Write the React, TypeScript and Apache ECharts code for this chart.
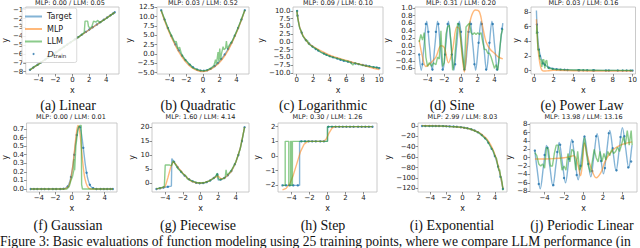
import React, { useEffect, useRef } from 'react';
import * as echarts from 'echarts';

// ---------- (a) Linear ----------
const aTarget = [[-5, -7.8], [5, -1.3]];
const aMLP = [[-5, -7.82], [-2, -5.85], [0, -4.57], [2, -3.27], [5, -1.3]];
const aLLM = [[-5, -7.8], [-4.5, -7.45], [-4, -7.2], [-3.5, -6.8], [-3, -6.5], [-2.5, -6.2], [-2.2, -6.3], [-2, -5.95], [-1.5, -5.55], [-1, -5.2], [-0.5, -4.85], [0, -4.55], [0.5, -4.25], [1, -3.9], [1.4, -3.6], [1.5, -2.3], [1.8, -2.3], [1.9, -2.9], [2.1, -3.1], [2.3, -2.9], [2.5, -2.3], [2.8, -2.4], [3.0, -2.2], [3.2, -2.5], [3.5, -2.3], [4, -2.0], [4.5, -1.65], [5, -1.3]];
const aPts = [[-5, -7.8], [-4.6, -7.54], [-4.1, -7.22], [-3.7, -6.96], [-3.2, -6.63], [-2.8, -6.37], [-2.3, -6.05], [-1.9, -5.79], [-1.5, -5.53], [-1.0, -5.2], [-0.6, -4.94], [-0.2, -4.68], [0.3, -4.36], [0.7, -4.1], [1.1, -3.84], [1.6, -3.51], [2.0, -3.25], [2.4, -2.99], [2.9, -2.67], [3.3, -2.41], [3.7, -2.15], [4.1, -1.89], [4.5, -1.63], [4.8, -1.43], [5.0, -1.3]];

// ---------- (b) Quadratic ----------
const bTarget = [[-5, 11.75], [-4.5, 8.66], [-4, 5.9], [-3.5, 3.46], [-3, 1.35], [-2.5, -0.44], [-2, -1.9], [-1.5, -3.04], [-1, -3.85], [-0.5, -4.34], [0, -4.5], [0.5, -4.34], [1, -3.85], [1.5, -3.04], [2, -1.9], [2.5, -0.44], [3, 1.35], [3.5, 3.46], [4, 5.9], [4.5, 8.66], [5, 11.75]];
const bMLP = [[-5, 11.6], [-4.5, 8.4], [-4, 5.6], [-3.5, 3.2], [-3, 1.0], [-2.5, -0.8], [-2, -2.3], [-1.5, -3.4], [-1, -4.1], [-0.5, -4.55], [0, -4.7], [0.5, -4.5], [1, -4.0], [1.5, -3.2], [2, -2.2], [2.5, -0.8], [3, 1.0], [3.5, 3.2], [4, 5.7], [4.5, 8.5], [5, 11.7]];
const bLLM = [[-5, 11.7], [-4.5, 8.8], [-4, 6.0], [-3.6, 4.2], [-3.4, 3.2], [-3.2, 3.4], [-3, 1.4], [-2.8, 1.8], [-2.6, 0.2], [-2.4, -0.6], [-2.1, -1.6], [-1.9, -2.0], [-1.7, -2.6], [-1.5, -2.9], [-1.3, -3.6], [-1, -3.9], [-0.5, -4.3], [0, -4.5], [0.5, -4.3], [1, -3.7], [1.3, -3.1], [1.5, -1.5], [1.6, -2.8], [1.8, 0.5], [1.9, -2.0], [2.0, 1.5], [2.1, -1.5], [2.2, 0.0], [2.4, 2.0], [2.5, 1.2], [2.7, 1.5], [2.8, 3.5], [2.9, 1.5], [3.0, 1.8], [3.2, 2.6], [3.5, 3.5], [4, 6.0], [4.5, 8.8], [5, 11.8]];
const bPts = [[-5, 11.75], [-4.6, 9.25], [-4.2, 6.97], [-3.8, 4.89], [-3.3, 2.58], [-2.9, 0.97], [-2.5, -0.44], [-2.1, -1.63], [-1.6, -2.84], [-1.2, -3.56], [-0.7, -4.18], [-0.3, -4.44], [0.1, -4.49], [0.5, -4.34], [0.9, -3.97], [1.4, -3.23], [1.8, -2.39], [2.2, -1.35], [2.6, -0.11], [3.0, 1.35], [3.4, 3.01], [3.8, 4.89], [4.2, 6.97], [4.6, 9.25], [5.0, 11.75]];

// ---------- (c) Logarithmic ----------
const cTarget = [[0.02, 10.3], [0.1, 8.5], [0.2, 6.5], [0.35, 4.8], [0.5, 3.6], [0.75, 2.0], [1, 0.9], [1.5, -0.5], [2, -1.7], [2.5, -2.6], [3, -3.4], [4, -4.6], [5, -5.5], [6, -6.3], [7, -6.9], [8, -7.5], [9, -8.0], [10, -8.5]];
const cMLP = [[0.02, 9.8], [0.2, 6.8], [0.5, 3.5], [1, 1.0], [1.5, -0.6], [2, -1.5], [3, -3.0], [4, -4.3], [5, -5.2], [6, -6.0], [7, -6.8], [8, -7.5], [9, -8.3], [10, -9.0]];
const cLLM = [[0.02, 10.3], [0.1, 8.0], [0.2, 6.8], [0.35, 4.5], [0.5, 3.8], [0.75, 1.8], [1, 1.1], [1.2, 0.2], [1.3, 0.6], [1.4, -0.6], [2, -1.7], [2.5, -2.5], [3, -3.5], [4, -4.7], [5, -5.4], [6, -6.2], [6.5, -6.6], [6.8, -7.5], [7, -6.8], [8, -7.6], [9, -8.0], [10, -8.5]];
const cPts = [[0.05, 10.0], [0.1, 8.5], [0.6, 3.0], [1.1, 0.6], [1.5, -0.5], [1.9, -1.5], [2.3, -2.3], [2.6, -2.8], [3.3, -3.8], [3.6, -4.2], [4.0, -4.6], [4.4, -5.0], [4.9, -5.4], [5.3, -5.8], [5.7, -6.1], [6.2, -6.4], [6.6, -6.7], [7.1, -7.0], [7.5, -7.2], [8.0, -7.5], [8.4, -7.7], [8.8, -7.9], [9.3, -8.2], [9.7, -8.3], [10.0, -8.5]];

// ---------- (d) Sine ----------
const dTarget = [[-5.0, -0.25], [-4.75, -0.65], [-4.425, 0], [-4.1, 0.65], [-3.775, 0], [-3.45, -0.65], [-3.125, 0], [-2.8, 0.65], [-2.475, 0], [-2.15, -0.65], [-1.825, 0], [-1.5, 0.65], [-1.175, 0], [-0.85, -0.65], [-0.525, 0], [-0.2, 0.65], [0.125, 0], [0.45, -0.65], [0.775, 0], [1.1, 0.65], [1.425, 0], [1.75, -0.65], [2.075, 0], [2.4, 0.65], [2.725, 0], [3.05, -0.65], [3.375, 0], [3.7, 0.65], [4.025, 0], [4.35, -0.65], [4.675, 0], [5.0, 0.6]];
const dMLP = [[-5, 0.15], [-4.6, -0.3], [-4.2, -0.55], [-3.6, -0.45], [-3, -0.3], [-2.4, 0.0], [-2.0, -0.05], [-1.5, -0.45], [-1.0, -0.1], [-0.5, 0.5], [-0.2, 0.45], [0.1, -0.2], [0.4, -0.7], [0.8, 0.3], [1.2, 0.75], [1.7, 0.95], [2.2, 0.9], [2.6, 0.5], [3.0, 0.1], [3.5, -0.1], [4.0, -0.2], [4.5, -0.3], [5.0, -0.35]];
const dLLM = [[-5, 0.1], [-4.8, 0.3], [-4.6, 0.15], [-4.4, 0.35], [-4.2, -0.3], [-4.0, -0.55], [-3.8, -0.45], [-3.5, -0.55], [-3.3, -0.45], [-3.0, -0.5], [-2.8, -0.3], [-2.6, -0.35], [-2.4, 0.4], [-2.2, -0.55], [-2.0, -0.45], [-1.8, 0.3], [-1.6, 0.5], [-1.4, 0.55], [-1.2, 0.1], [-1.0, -0.65], [-0.8, -0.45], [-0.6, 0.1], [-0.4, 0.6], [-0.2, 0.55], [0, 0.1], [0.2, -0.3], [0.4, -0.65], [0.6, 0.5], [0.8, 0.55], [1.0, 0.6], [1.2, 0.35], [1.4, 0.3], [1.6, 0.35], [1.8, 0.3], [2.0, 0.35], [2.2, 0.3], [2.4, 0.35], [2.6, 0.1], [2.8, -0.1], [3.0, -0.1], [3.2, -0.2], [3.4, -0.2], [3.6, -0.3], [3.8, -0.45], [4.0, -0.6], [4.2, -0.5], [4.4, -0.65], [4.6, -0.2], [4.8, 0.3], [5.0, 0.45]];
const dPts = [[-5.0, -0.23], [-4.6, -0.49], [-4.2, 0.58], [-3.9, 0.37], [-3.4, -0.63], [-3.0, 0.37], [-2.7, 0.58], [-2.2, -0.63], [-1.9, -0.23], [-1.6, 0.58], [-1.1, -0.23], [-0.7, -0.49], [-0.3, 0.58], [0.0, 0.37], [0.4, -0.63], [0.9, 0.37], [1.2, 0.58], [1.6, -0.49], [2.1, 0.08], [2.5, 0.58], [3.0, -0.63], [3.4, 0.08], [3.8, 0.58], [4.3, -0.63], [4.9, 0.45]];

// ---------- (e) Power Law ----------
const eTarget = [[0.25, 8.2], [0.3, 6.4], [0.4, 4.2], [0.5, 3.0], [0.6, 2.3], [0.8, 1.4], [1.0, 0.95], [1.3, 0.6], [1.6, 0.4], [2, 0.27], [2.5, 0.17], [3, 0.12], [4, 0.07], [5, 0.05], [6, 0.03], [8, 0.02], [10, 0.01]];
const eMLP = [[0.25, 7.0], [0.3, 5.5], [0.4, 3.2], [0.5, 1.9], [0.6, 1.0], [0.7, 0.4], [0.8, 0.1], [1.0, -0.05], [1.5, 0.0], [2, 0.05], [4, 0.0], [6, -0.05], [10, -0.05]];
const eLLM = [[0.25, 5.0], [0.3, 6.2], [0.4, 2.8], [0.5, 2.9], [0.6, 1.6], [0.7, 1.5], [0.8, 0.5], [0.9, 1.5], [1.0, 1.5], [1.1, 0.3], [1.2, 1.3], [1.3, 1.4], [1.4, 0.4], [1.5, 0.3], [1.7, 0.3], [2.0, 0.2], [3, 0.15], [5, 0.1], [7, 0.05], [10, 0.05]];
const ePts = [[0.3, 6.3], [0.35, 5.2], [0.5, 2.9], [0.6, 2.0], [0.9, 1.0], [1.1, 0.8], [1.5, 0.4], [1.9, 0.25], [2.3, 0.2], [2.7, 0.15], [3.1, 0.12], [3.4, 0.1], [4.5, 0.06], [4.6, 0.06], [5.0, 0.05], [5.4, 0.05], [6.0, 0.04], [6.1, 0.04], [7.3, 0.03], [7.6, 0.03], [8.5, 0.02], [9.0, 0.02], [9.4, 0.02], [9.8, 0.01], [10, 0.01]];

// ---------- (f) Gaussian ----------
const fTarget = [[-5, 0], [-1.5, 0], [-1, 0.002], [-0.5, 0.03], [-0.2, 0.1], [0.1, 0.25], [0.3, 0.4], [0.5, 0.56], [0.7, 0.68], [0.9, 0.73], [1.1, 0.68], [1.3, 0.56], [1.5, 0.4], [1.7, 0.25], [2.0, 0.1], [2.3, 0.03], [2.8, 0.002], [3.2, 0], [5, 0]];
const fMLP = [[-5, 0], [-1, 0], [-0.5, 0.02], [-0.2, 0.08], [0.1, 0.25], [0.3, 0.42], [0.5, 0.6], [0.75, 0.74], [0.95, 0.68], [1.15, 0.5], [1.35, 0.3], [1.6, 0.12], [1.9, 0.03], [2.3, 0], [5, 0]];
const fLLM = [[-5, 0], [-0.6, 0], [-0.3, 0.03], [-0.1, 0.1], [0.1, 0.15], [0.25, 0.22], [0.3, 0.35], [0.35, 0.22], [0.5, 0.5], [0.65, 0.62], [0.8, 0.72], [1.0, 0.74], [1.15, 0.74], [1.2, 0.05], [1.3, 0], [5, 0]];
const fPts = [[-5, 0], [-4.6, 0], [-4.2, 0], [-3.7, 0], [-3.3, 0], [-2.8, 0], [-2.3, 0], [-1.9, 0], [-1.4, 0], [-1.0, 0.002], [-0.5, 0.03], [-0.1, 0.14], [0.3, 0.4], [0.6, 0.63], [1.0, 0.72], [1.4, 0.48], [1.8, 0.19], [2.2, 0.05], [2.6, 0.01], [3.0, 0], [3.5, 0], [3.9, 0], [4.3, 0], [4.7, 0], [5.0, 0]];

// ---------- (g) Piecewise ----------
const gTarget = [[-5, -2], [-4, -1.4], [-3.3, -1.0], [-3.25, 8.8], [-3, 7.65], [-2.75, 6.43], [-2.5, 5.31], [-2.25, 4.3], [-2, 3.4], [-1.75, 2.6], [-1.5, 1.91], [-1.25, 1.33], [-1, 0.85], [-0.75, 0.48], [-0.5, 0.21], [-0.25, 0.05], [0, 0], [0.25, 0.05], [0.5, 0.21], [0.75, 0.48], [1, 0.85], [1.25, 1.33], [1.5, 1.91], [1.75, 2.6], [1.95, 3.6], [2.0, 1.2], [2.25, 1.3], [2.5, 1.6], [2.75, 2.0], [3, 2.6], [3.25, 3.4], [3.5, 4.4], [3.75, 5.8], [4, 7.5], [4.25, 9.7], [4.5, 12.4], [4.75, 15.8], [5, 20]];
const gMLP = [[-5, -2], [-4.5, -1.7], [-4, -1.2], [-3.7, 2], [-3.4, 5.5], [-3.1, 7.8], [-2.8, 6.8], [-2.5, 5.5], [-2, 3.6], [-1.5, 1.9], [-1, 0.7], [-0.5, 0.2], [0, 0.1], [0.5, 0.3], [1, 0.9], [1.5, 1.9], [2, 2.6], [2.3, 1.6], [2.7, 1.8], [3, 2.6], [3.5, 4.2], [4, 7.4], [4.5, 12.4], [5, 20]];
const gLLM = [[-5, -2], [-4.5, -1.6], [-4.1, -1.2], [-4.0, 6.5], [-3.5, 6.5], [-3.3, 6.3], [-3.1, 8.0], [-2.8, 6.5], [-2.5, 5.0], [-2.2, 4.2], [-2.0, 3.4], [-1.6, 2.5], [-1.5, 1.6], [-1.0, 0.9], [-0.5, 0.3], [0, 0.1], [0.5, 0.3], [1, 0.9], [1.5, 1.8], [1.7, 2.3], [1.9, 3.6], [2.0, 1.8], [2.2, 1.2], [2.5, 1.6], [2.8, 2.0], [2.9, 4.8], [3.0, 3.0], [3.2, 3.5], [3.5, 4.6], [4, 7.6], [4.5, 12.2], [5, 20]];
const gPts = [[-5, -2], [-4.6, -1.8], [-4.2, -1.5], [-3.7, -1.2], [-3.0, 7.65], [-2.6, 5.75], [-2.2, 4.1], [-1.8, 2.75], [-1.3, 1.44], [-0.9, 0.69], [-0.5, 0.21], [-0.1, 0.01], [0.3, 0.08], [0.7, 0.42], [1.1, 1.03], [1.5, 1.91], [1.9, 3.07], [2.3, 1.35], [2.7, 1.9], [3.1, 2.9], [3.5, 4.4], [3.9, 6.8], [4.3, 10.1], [4.7, 15.1], [5.0, 20]];

// ---------- (h) Step ----------
const hTarget = [[-5, -2], [-3.1, -2], [-3.1, 1], [0, 1], [0, 2], [5, 2]];
const hMLP = [[-5, -2.3], [-4.6, -2.2], [-4.2, -1.9], [-3.8, -1.3], [-3.4, -0.5], [-3.0, 0.3], [-2.6, 0.8], [-2.2, 1.0], [-1, 1.0], [-0.4, 1.0], [-0.1, 1.2], [0.2, 1.6], [0.5, 1.9], [0.8, 2.0], [5, 2.0]];
const hLLM = [[-5, -2], [-4.7, -2], [-4.7, 1], [-4.3, 1], [-4.3, -2], [-4.1, -2], [-4.1, 1], [-4.0, 1], [-4.0, -2], [-3.9, -2], [-3.9, 1], [0, 1], [0, 2], [5, 2]];
const hPts = [[-5, -2], [-4.6, -2], [-4.2, -2], [-3.8, -2], [-3.3, -2], [-2.9, 1], [-2.5, 1], [-2.1, 1], [-1.7, 1], [-1.3, 1], [-0.8, 1], [-0.4, 1], [0.1, 2], [0.5, 2], [0.9, 2], [1.3, 2], [1.7, 2], [2.1, 2], [2.5, 2], [2.9, 2], [3.4, 2], [3.8, 2], [4.2, 2], [4.6, 2], [5.0, 2]];

// ---------- (i) Exponential ----------
const iTarget = [[-5, -0.1], [-4, -0.15], [-3, -0.3], [-2, -0.7], [-1, -1.4], [0, -3], [0.5, -4.4], [1, -6.3], [1.5, -9], [2, -13], [2.5, -19], [3, -27.5], [3.5, -40], [4, -58], [4.5, -84], [5, -121]];
const iMLP = [[-5, 0.5], [-4, 0.2], [-3, -0.2], [-2, -0.8], [-1, -1.6], [0, -3.2], [1, -6.5], [2, -12.5], [2.5, -18], [3, -25], [3.5, -37], [4, -55], [4.5, -82], [5, -120]];
const iLLM = [[-5, 0], [-4, -0.2], [-3, -0.5], [-2.5, -0.3], [-2, -1], [-1, -1.8], [0, -3], [1, -6], [1.5, -9.5], [2, -13], [2.5, -20], [3, -27], [3.5, -41], [3.8, -48], [4, -58], [4.2, -62], [4.3, -72], [4.5, -86], [4.6, -84], [4.7, -98], [4.8, -100], [4.9, -108], [5, -124]];
const iPts = [[-5, -0.1], [-4.6, -0.1], [-4.1, -0.15], [-3.7, -0.2], [-3.3, -0.25], [-2.9, -0.32], [-2.4, -0.5], [-2.0, -0.7], [-1.6, -0.95], [-1.1, -1.3], [-0.7, -1.8], [-0.2, -2.6], [0.2, -3.5], [0.6, -4.7], [1.1, -6.8], [1.5, -9], [1.9, -12.3], [2.4, -17.7], [2.8, -23.9], [3.2, -32.5], [3.6, -44], [4.0, -58], [4.4, -78], [4.7, -98], [5.0, -121]];

// ---------- (j) Periodic Linear ----------
const jTarget = [[-5.0, 1.7], [-4.775, -2.63], [-4.45, -7.45], [-4.125, -2.27], [-3.8, 2.91], [-3.475, -1.91], [-3.15, -6.73], [-2.825, -1.55], [-2.5, 3.63], [-2.175, -1.2], [-1.85, -6.02], [-1.525, -0.84], [-1.2, 4.34], [-0.875, -0.48], [-0.55, -5.3], [-0.225, -0.12], [0.1, 5.06], [0.425, 0.23], [0.75, -4.59], [1.075, 0.59], [1.4, 5.77], [1.725, 0.95], [2.05, -3.87], [2.375, 1.31], [2.7, 6.49], [3.025, 1.66], [3.35, -3.16], [3.675, 2.02], [4.0, 7.2], [4.325, 2.38], [4.65, -2.44], [4.975, 2.74], [5.0, 3.0]];
const jMLP = [[-5, -0.3], [-4, -0.3], [-3, -0.2], [-2, 0], [-1.5, 0.2], [-1, 0.5], [-0.6, -1.5], [-0.3, -4.3], [-0.1, -1], [0.1, 3.5], [0.4, 0.5], [0.8, -2.5], [1.3, -4.8], [1.8, -3.5], [2.2, -1], [2.7, 1], [3.2, 2.2], [3.8, 3.0], [4.4, 3.5], [5, 3.8]];
const jLLM = [[-5, 1.2], [-4.8, 0.5], [-4.6, -1.5], [-4.4, -2], [-4.2, -1.5], [-4, -2.5], [-3.8, 2.5], [-3.6, 2], [-3.4, -2], [-3.2, -2], [-3, 1], [-2.8, 3], [-2.6, 3], [-2.4, 0.5], [-2.2, -3], [-2, -2], [-1.8, -3], [-1.6, 1], [-1.4, -1], [-1.2, 2], [-1, 1.5], [-0.8, -3], [-0.6, 1.5], [-0.4, -3], [-0.2, -2], [0, 3], [0.1, 4.8], [0.3, 1], [0.5, -2], [0.7, -3.5], [0.9, -1], [1.1, 2], [1.3, 0], [1.5, -1], [1.7, 1.5], [1.9, -1], [2.1, 1], [2.3, -0.5], [2.5, 1.5], [2.7, 0.5], [2.9, 2], [3.1, 1], [3.3, 1.5], [3.5, 2.5], [3.7, 1.5], [3.9, 3], [4.1, 5], [4.3, 3], [4.5, 6.5], [4.7, 3], [4.9, 6.5], [5, 3]];
const jPts = [[-5.0, 1.7], [-4.6, -6.27], [-4.0, 0.65], [-3.7, 2.4], [-3.1, -6.56], [-2.7, 1.36], [-2.4, 3.11], [-2.0, -4.84], [-1.5, -0.23], [-1.1, 3.83], [-0.7, -4.13], [-0.3, -1.94], [0.1, 5.06], [0.5, -1.5], [0.9, -3.2], [1.3, 5.15], [1.8, -0.78], [2.2, -2.49], [2.6, 5.86], [3.0, 2.25], [3.4, -2.98], [3.8, 4.93], [4.2, 5.15], [4.6, -2.32], [4.9, -0.9]];

// ---------- labels & ticks ----------
const titles = ['MLP: 0.00 / LLM: 0.05', 'MLP: 0.03 / LLM: 0.52', 'MLP: 0.09 / LLM: 0.10', 'MLP: 0.31 / LLM: 0.20', 'MLP: 0.03 / LLM: 0.16', 'MLP: 0.00 / LLM: 0.01', 'MLP: 1.60 / LLM: 4.14', 'MLP: 0.30 / LLM: 1.26', 'MLP: 2.99 / LLM: 8.03', 'MLP: 13.98 / LLM: 13.16'];
const captions = ['(a) Linear', '(b) Quadratic', '(c) Logarithmic', '(d) Sine', '(e) Power Law', '(f) Gaussian', '(g) Piecewise', '(h) Step', '(i) Exponential', '(j) Periodic Linear'];
const figureCaption = 'Figure 3: Basic evaluations of function modeling using 25 training points, where we compare LLM performance (in';
const xTicksSym = [-4, -2, 0, 2, 4];
const xTicks10 = [0, 2, 4, 6, 8, 10];
const aYTicks = [-8, -7, -6, -5, -4, -3, -2, -1];
const bYTicks = [-5, -2.5, 0, 2.5, 5, 7.5, 10, 12.5];
const cYTicks = [-10, -7.5, -5, -2.5, 0, 2.5, 5, 7.5, 10];
const dYTicks = [-0.6, -0.4, -0.2, 0, 0.2, 0.4, 0.6, 0.8, 1.0];
const eYTicks = [0, 2, 4, 6, 8];
const fYTicks = [0, 0.1, 0.2, 0.3, 0.4, 0.5, 0.6, 0.7];
const gYTicks = [0, 5, 10, 15, 20];
const hYTicks = [-2, -1, 0, 1, 2];
const iYTicks = [-120, -100, -80, -60, -40, -20, 0];
const jYTicks = [-8, -6, -4, -2, 0, 2, 4, 6, 8];

const C_T = 'rgba(31,119,180,0.55)';
const C_M = 'rgba(255,127,14,0.55)';
const C_L = 'rgba(44,160,44,0.55)';
const C_P = '#1f6fa8';
const SANS = 'DejaVu Sans';
const SERIF = 'Liberation Serif';

const panels = [
  { t: aTarget, m: aMLP, l: aLLM, p: aPts, left: 21, top: 7, w: 98, h: 67, x: [-5.5, 5.5], xt: xTicksSym, y: [-8.27, -0.7], yt: aYTicks, yd: 0, yg: 11, sm: false, cap: 68 },
  { t: bTarget, m: bMLP, l: bLLM, p: bPts, left: 157, top: 7, w: 92, h: 67, x: [-5.5, 5.5], xt: xTicksSym, y: [-5.35, 12.6], yt: bYTicks, yd: 1, yg: 21, sm: true, cap: 198 },
  { t: cTarget, m: cMLP, l: cLLM, p: cPts, left: 293, top: 7, w: 90, h: 67, x: [-0.45, 10.45], xt: xTicks10, y: [-10.4, 11.3], yt: cYTicks, yd: 1, yg: 23, sm: true, cap: 323 },
  { t: dTarget, m: dMLP, l: dLLM, p: dPts, left: 415, top: 7, w: 92, h: 67, x: [-5.5, 5.5], xt: xTicksSym, y: [-0.75, 1.03], yt: dYTicks, yd: 1, yg: 19, sm: true, cap: 452 },
  { t: eTarget, m: eMLP, l: eLLM, p: ePts, left: 531, top: 7, w: 105, h: 67, x: [-0.3, 10.3], xt: xTicks10, y: [-0.45, 8.68], yt: eYTicks, yd: 0, yg: 5, sm: true, cap: 582 },
  { t: fTarget, m: fMLP, l: fLLM, p: fPts, left: 25, top: 123, w: 92, h: 69, x: [-5.5, 5.5], xt: xTicksSym, y: [-0.035, 0.77], yt: fYTicks, yd: 1, yg: 7, sm: true, cap: 68 },
  { t: gTarget, m: gMLP, l: gLLM, p: gPts, left: 152, top: 123, w: 97, h: 69, x: [-5.5, 5.5], xt: xTicksSym, y: [-3.1, 21.5], yt: gYTicks, yd: 0, yg: 6, sm: false, cap: 198 },
  { t: hTarget, m: hMLP, l: hLLM, p: hPts, left: 278, top: 123, w: 99, h: 69, x: [-5.5, 5.5], xt: xTicksSym, y: [-2.45, 2.25], yt: hYTicks, yd: 0, yg: 11, sm: false, cap: 323 },
  { t: iTarget, m: iMLP, l: iLLM, p: iPts, left: 418, top: 123, w: 89, h: 69, x: [-5.5, 5.5], xt: xTicksSym, y: [-127, 5.5], yt: iYTicks, yd: 0, yg: 21, sm: true, cap: 452 },
  { t: jTarget, m: jMLP, l: jLLM, p: jPts, left: 530, top: 123, w: 107, h: 69, x: [-5.5, 5.5], xt: xTicksSym, y: [-8.2, 8.3], yt: jYTicks, yd: 0, yg: 7, sm: true, cap: 582 },
];

const fmt = (d: number) => (v: number) => {
  const s = Math.abs(v).toFixed(d);
  return v < -1e-9 ? '\u2212' + s : s;
};

function buildOption() {
  const grid: any[] = [];
  const xAxis: any[] = [];
  const yAxis: any[] = [];
  const series: any[] = [];
  const graphic: any[] = [];
  panels.forEach((P, i) => {
    grid.push({ left: P.left, top: P.top, width: P.w, height: P.h, show: true, borderColor: '#bdbdbd', borderWidth: 0.8, backgroundColor: 'transparent' });
    const tick = { show: true, inside: false, length: 2.5, lineStyle: { color: '#444', width: 0.6 } };
    const common = {
      type: 'value',
      gridIndex: i,
      splitLine: { show: false },
      minorTick: { show: false },
      axisLine: { show: false, onZero: false },
      nameTextStyle: { fontFamily: SANS, fontSize: 8, color: '#222' },
      nameLocation: 'middle',
    };
    xAxis.push({
      ...common,
      position: 'bottom',
      min: P.x[0], max: P.x[1],
      axisTick: { ...tick, customValues: P.xt },
      axisLabel: { customValues: P.xt, formatter: fmt(0), fontFamily: SANS, fontSize: 7, color: '#222', margin: 2.5 },
      name: 'x', nameGap: 12,
    });
    yAxis.push({
      ...common,
      position: 'left',
      min: P.y[0], max: P.y[1],
      axisTick: { ...tick, customValues: P.yt },
      axisLabel: { customValues: P.yt, formatter: fmt(P.yd), fontFamily: SANS, fontSize: 7, color: '#222', margin: 2.5 },
      name: 'y', nameGap: P.yg,
    });
    const base = { xAxisIndex: i, yAxisIndex: i, animation: false, silent: true };
    series.push({ ...base, type: 'line', name: 'Target', data: P.t, showSymbol: false, symbol: 'none', smooth: P.sm ? 0.35 : false, lineStyle: { color: C_T, width: 1.4 }, itemStyle: { color: C_T } });
    series.push({ ...base, type: 'line', name: 'MLP', data: P.m, showSymbol: false, symbol: 'none', smooth: P.sm ? 0.35 : false, lineStyle: { color: C_M, width: 1.4 }, itemStyle: { color: C_M } });
    series.push({ ...base, type: 'line', name: 'LLM', data: P.l, showSymbol: false, symbol: 'none', lineStyle: { color: C_L, width: 1.4 }, itemStyle: { color: C_L } });
    series.push({ ...base, type: 'scatter', name: 'D', data: P.p, symbolSize: 2.4, itemStyle: { color: C_P } });
    const row2 = P.top > 100;
    graphic.push({ type: 'text', x: P.left + P.w / 2, y: row2 ? 117 : 3, style: { text: titles[i], fontFamily: SANS, fontSize: 6.5, fill: '#222', align: 'center', verticalAlign: 'middle' } });
    graphic.push({ type: 'text', x: P.cap, y: row2 ? 225 : 105, style: { text: captions[i], fontFamily: SERIF, fontSize: 14, fill: '#111', align: 'center', verticalAlign: 'middle' } });
  });
  graphic.push({ type: 'text', x: 0, y: 241, style: { text: figureCaption, fontFamily: SERIF, fontSize: 13.6, fill: '#111', align: 'left', verticalAlign: 'middle' } });

  return {
    animation: false,
    grid, xAxis, yAxis, series, graphic,
    legend: {
      left: 22, top: 8, orient: 'vertical',
      padding: [4, 5, 4, 3], itemGap: 3.5, itemWidth: 17, itemHeight: 2,
      borderColor: '#d0d0d0', borderWidth: 0.8, borderRadius: 2, backgroundColor: 'rgba(255,255,255,0.85)',
      selectedMode: false,
      data: [
        { name: 'Target', icon: 'rect' },
        { name: 'MLP', icon: 'rect' },
        { name: 'LLM', icon: 'rect' },
        { name: 'D', icon: 'circle' },
      ],
      formatter: (n: string) => (n === 'D' ? '{i|D}{s|train}' : n),
      textStyle: {
        fontFamily: SANS, fontSize: 8, color: '#222', lineHeight: 9,
        rich: {
          i: { fontFamily: SERIF, fontStyle: 'italic', fontSize: 9, lineHeight: 9 },
          s: { fontFamily: SANS, fontSize: 5.5, lineHeight: 9, verticalAlign: 'bottom' },
        },
      },
    },
  };
}

export default function App() {
  const ref = useRef<HTMLDivElement>(null);
  useEffect(() => {
    document.body.style.margin = '0';
    if (!ref.current) return;
    const chart = echarts.init(ref.current, undefined, { renderer: 'svg' });
    chart.setOption(buildOption() as any);
    return () => chart.dispose();
  }, []);
  return <div ref={ref} style={{ width: 640, height: 248, background: '#fff' }} />;
}
